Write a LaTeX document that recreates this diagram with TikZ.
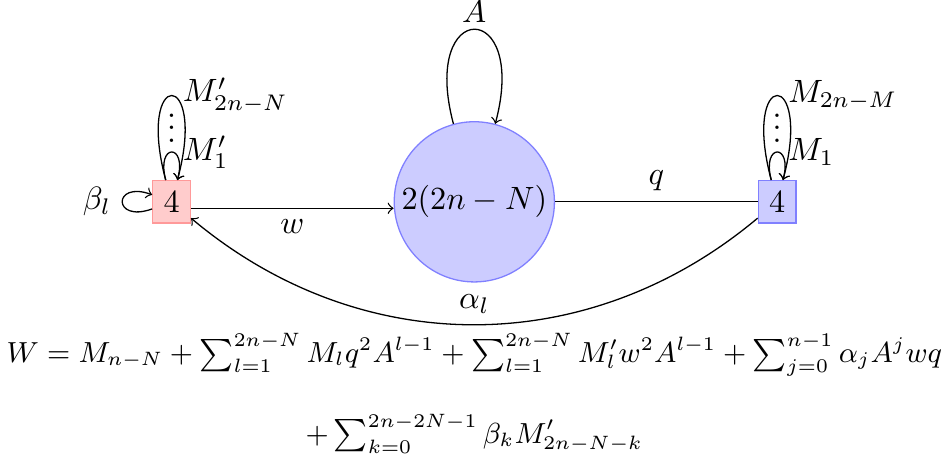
\documentclass[tikz,border=0pt]{standalone}
\usetikzlibrary{positioning}

\definecolor{lichtblauw}{HTML}{CCCCFF}
\definecolor{randblauw}{HTML}{8080FF}
\definecolor{lichtrood}{HTML}{FFCCCC}
\definecolor{randrood}{HTML}{FF9999}

\begin{document}
\begin{tikzpicture}[
    ijk/.style={circle,draw=randblauw,fill=lichtblauw,inner sep=1.5pt},
    vakrood/.style={rectangle,draw=randrood,fill=lichtrood},
    vakblauw/.style={rectangle,draw=randblauw,fill=lichtblauw}]

  \useasboundingbox (-5.17,-2.77) rectangle (5.13,2.2);

  % knopen
  \node[ijk] (C) at (0,0) {$2(2n-N)$};
  \node[vakrood] (L) at (-3.3,0) {$4$};
  \node[vakblauw] (R) at (3.3,0) {$4$};

  % verbindingen
  \draw[->] ([yshift=-2pt]L.east) -- node[below] {$w$} ([yshift=-2pt]C.west);
  \draw (C) -- node[above] {$q$} (R);
  \draw[->] (R) to[bend left=40] node[above] {$\alpha_l$} (L);

  % lussen
  \draw[->] (C) to[loop above] node[above,inner sep=2pt] {$A$} (C);
  \draw[->] (L) to[loop left,out=200,in=160,min distance=4.6mm] node[left] {$\beta_l$} (L);
  \draw[->] (L) to[loop above,min distance=4.2mm] node[right] {$M'_1$} (L);
  \draw[->] (L) to[loop above,min distance=12.7mm] node[right] {$M'_{2n-N}$} (L);
  \node[above=8pt of L] (Ldots) {$\vdots$};
  \draw[->] (R) to[loop above,min distance=4.2mm] node[right] {$M_1$} (R);
  \draw[->] (R) to[loop above,min distance=12.7mm] node[right] {$M_{2n-M}$} (R);
  \node[above=8pt of R] (Rdots) {$\vdots$};

  % superpotentiaal
  \node[anchor=base,font=\small] (W1) at (0,-1.75)
    {$W = M_{n-N} + \sum_{l=1}^{2n-N} M_l q^2 A^{l-1} + \sum_{l=1}^{2n-N} M'_l w^2 A^{l-1} + \sum_{j=0}^{n-1} \alpha_j A^j wq$};
  \node[anchor=base,font=\small] (W2) at (0,-2.63)
    {$+ \sum_{k=0}^{2n-2N-1} \beta_k M'_{2n-N-k}$};

\end{tikzpicture}
\end{document}
